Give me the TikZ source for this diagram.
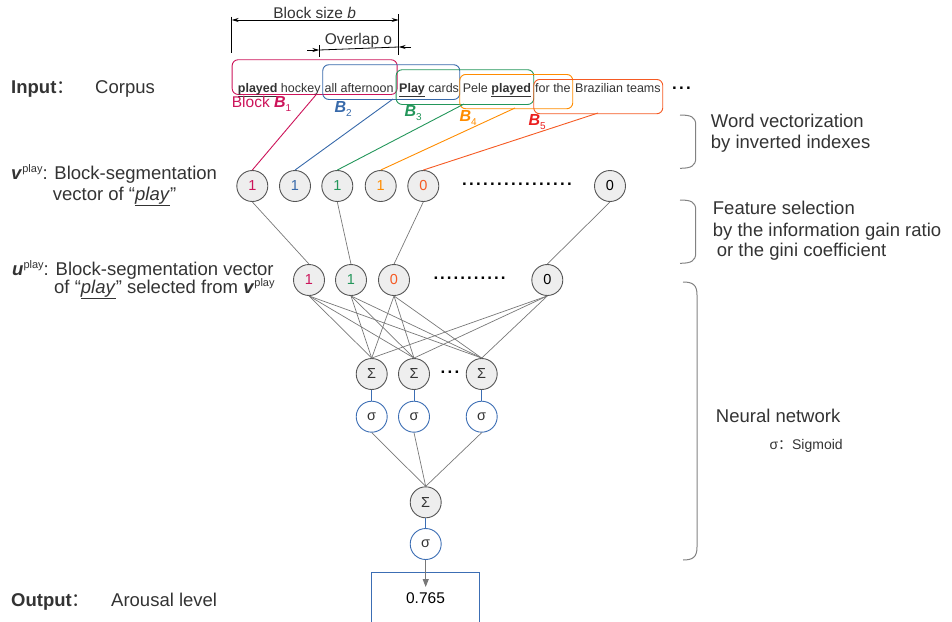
\documentclass[tikz,border=0pt]{standalone}
\usepackage{fontspec}
\setmainfont{Liberation Sans}
\newfontfamily\cjk{Noto Sans CJK SC}
\usetikzlibrary{arrows.meta}
\definecolor{txt}{RGB}{51,51,51}
\definecolor{crim}{RGB}{204,20,90}
\definecolor{blu}{RGB}{55,105,170}
\definecolor{grn}{RGB}{35,150,90}
\definecolor{orn}{RGB}{255,140,0}
\definecolor{rdo}{RGB}{245,90,35}
\definecolor{rdb}{RGB}{235,30,30}
\definecolor{ndraw}{RGB}{85,85,85}
\definecolor{nfill}{RGB}{238,238,238}
\definecolor{sblue}{RGB}{60,110,180}
\definecolor{lgray}{RGB}{120,120,120}
\definecolor{bgray}{RGB}{130,130,130}
\newcommand\fmain{\fontsize{18.5}{22}\selectfont}
\newcommand\fsmall{\fontsize{12.5}{15}\selectfont}
\newcommand\fdim{\fontsize{15.5}{18}\selectfont}
\newcommand\fnum{\fontsize{14.5}{17}\selectfont}
\newcommand\supr[1]{\raisebox{7pt}{\fontsize{11}{12}\selectfont #1}}
\newcommand\bsub[1]{\fontsize{16}{18}\selectfont\textbf{\textit{B}}\raisebox{-4pt}{\fontsize{10}{12}\selectfont #1}}
\newcommand\dotrow[2]{\makebox[#1]{\xleaders\hbox to #2{\hss.\hss}\hfill}}
\begin{document}
\begin{tikzpicture}[x=1pt,y=-1pt,
  every node/.style={text=txt},
  neuron/.style={circle, draw=ndraw, fill=nfill, line width=0.9pt, minimum size=31pt, inner sep=0pt, font=\fnum},
  sig/.style={circle, draw=sblue, fill=white, line width=0.9pt, minimum size=31pt, inner sep=0pt, font=\fnum},
  conn/.style={draw=lgray, line width=0.7pt},
  blk/.style={draw, rounded corners=6pt, line width=0.9pt, inner sep=0pt, anchor=north west},
  lbl/.style={anchor=base west, inner sep=0pt, font=\fmain},
  word/.style={anchor=base west, inner sep=0pt, font=\fsmall},
  brace/.style={draw=bgray, line width=1pt},
  dimline/.style={draw=black, line width=0.8pt},
  dots/.style={inner sep=0pt, text=black, font=\fontsize{17}{18}\selectfont\bfseries},
]
\useasboundingbox (0,0) rectangle (952,621);

% dimension lines
\draw[dimline] (231.7,16.7) -- (231.7,53.3);
\draw[dimline] (398.7,14) -- (398.7,55);
\draw[dimline,{Stealth[length=7pt,width=4pt]}-{Stealth[length=7pt,width=4pt]}] (231.7,20) -- (398.7,20);
\node[anchor=base, inner sep=0pt, font=\fdim] (bsz) at (314.7,18) {Block size \textit{b}};
\draw[dimline] (319.3,45) -- (319.3,56.7);
\draw[dimline,-{Stealth[length=7pt,width=4pt]}] (307,50) -- (319.3,50);
\draw[dimline] (319.3,50) -- (398.7,47);
\draw[dimline,-{Stealth[length=7pt,width=4pt]}] (411,47) -- (398.7,47);
\node[anchor=base, inner sep=0pt, font=\fdim] (ovl) at (358.5,44.3) {Overlap o};

% blocks
\node[blk, draw=crim, minimum width=165pt, minimum height=34.7pt] (B1) at (231.7,59.3) {};
\node[blk, draw=blu, minimum width=137pt, minimum height=34.7pt] (B2) at (322.3,64.3) {};
\node[blk, draw=grn, minimum width=137.6pt, minimum height=34.7pt] (B3) at (395.7,69.3) {};
\node[blk, draw=orn, minimum width=113pt, minimum height=34.3pt] (B4) at (459.3,74) {};
\node[blk, draw=rdo, minimum width=129pt, minimum height=34.3pt] (B5) at (533.3,79) {};

% words
\node[word] (w1) at (237.7,92) {\textbf{\underline{played}} hockey};
\node[word] (w2) at (324.5,92) {all afternoon};
\node[word] (w3) at (399,92) {\textbf{\underline{Play}} cards};
\node[word] (w4) at (462.7,92) {Pele \textbf{\underline{played}}};
\node[word] (w5) at (535,92) {for the};
\node[word] (w6) at (575,92) {Brazilian teams};
\node[dots] (tdots) at (681.5,88) {\dotrow{21pt}{7pt}};

% block labels
\node[anchor=base west, inner sep=0pt, text=crim, font=\fdim] (L1) at (231.7,107.3) {Block \bsub{1}};
\node[anchor=base west, inner sep=0pt, text=blu] (L2) at (334.3,112) {\bsub{2}};
\node[anchor=base west, inner sep=0pt, text=grn] (L3) at (404.3,116.7) {\bsub{3}};
\node[anchor=base west, inner sep=0pt, text=orn] (L4) at (459.3,121.7) {\bsub{4}};
\node[anchor=base west, inner sep=0pt, text=rdb] (L5) at (528.3,125.3) {\bsub{5}};

% v row
\node[neuron, text=crim] (v1) at (252.3,186) {1};
\node[neuron, text=blu] (v2) at (295,186) {1};
\node[neuron, text=grn] (v3) at (337.3,186) {1};
\node[neuron, text=orn] (v4) at (380.7,186) {1};
\node[neuron, text=rdo] (v5) at (423.3,186) {0};
\node[neuron, text=black] (vN) at (610,186) {0};
\node[dots] (vdots) at (517,184) {\dotrow{112pt}{7pt}};

\coordinate (b1) at (316.7,94);
\coordinate (b2) at (393,99);
\coordinate (b3) at (464,104);
\coordinate (b4) at (515,108);
\coordinate (b5) at (598,113);
\draw[crim, line width=0.9pt] (b1) -- (v1.north);
\draw[blu, line width=0.9pt] (b2) -- (v2.north);
\draw[grn, line width=0.9pt] (b3) -- (v3.north);
\draw[orn, line width=0.9pt] (b4) -- (v4.north);
\draw[rdo, line width=0.9pt] (b5) -- (v5.north);

% u row
\node[neuron, text=crim] (u1) at (309,280) {1};
\node[neuron, text=grn] (u2) at (351,280) {1};
\node[neuron, text=rdo] (u3) at (394,280) {0};
\node[neuron, text=black] (uN) at (547.3,280) {0};
\node[dots] (udots) at (469.5,278) {\dotrow{74pt}{6.7pt}};

\draw[conn] (v1.south) -- (u1.north);
\draw[conn] (v3.south) -- (u2.north);
\draw[conn] (v5.south) -- (u3.north);
\draw[conn] (vN.south) -- (uN.north);

% sum row
\node[neuron] (S1) at (371.7,374) {Σ};
\node[neuron] (S2) at (414,374) {Σ};
\node[neuron] (S3) at (481.7,374) {Σ};
\node[dots] (sdots) at (450,372) {\dotrow{21pt}{7pt}};
\foreach \u in {u1,u2,u3,uN}{
  \foreach \s in {S1,S2,S3}{
    \draw[conn] (\u.south) -- (\s.north);
  }
}

% sigma row
\node[sig] (g1) at (371.7,416.7) {σ};
\node[sig] (g2) at (414,416.7) {σ};
\node[sig] (g3) at (481.7,416.7) {σ};
\draw[sblue, line width=1pt] (S1.south) -- (g1.north);
\draw[sblue, line width=1pt] (S2.south) -- (g2.north);
\draw[sblue, line width=1pt] (S3.south) -- (g3.north);

\node[neuron] (SO) at (425.7,502.3) {Σ};
\node[sig] (gO) at (425.7,544) {σ};
\foreach \g in {g1,g2,g3}{ \draw[conn] (\g.south) -- (SO.north); }
\draw[sblue, line width=1pt] (SO.south) -- (gO.north);

% output box
\node[draw=sblue, line width=0.9pt, minimum width=107.6pt, minimum height=70pt, anchor=north, inner sep=0pt] (box) at (425.5,571.7) {};
\node[inner sep=0pt, font=\fontsize{15.5}{18}\selectfont, text=black] (val) at (425.5,598) {0.765};
\coordinate (tip) at (425.7,587);
\draw[draw=lgray, fill=lgray, line width=1pt, -{Triangle[length=8pt,width=6pt]}] (gO.south) -- (tip);

% left labels
\node[lbl] (inp) at (11,93.3) {\textbf{Input}{\cjk ：}};
\node[lbl] (corp) at (95,93.3) {Corpus};
\node[lbl] (vl1) at (11,179.3) {\textbf{\textit{v}}\supr{play}: Block-segmentation};
\node[lbl] (vl2) at (52.7,200) {vector of “\underline{\textit{play}}”};
\node[lbl] (ul1) at (12,275) {\textbf{\textit{u}}\supr{play}: Block-segmentation vector};
\node[lbl] (ul2) at (54,293.3) {of “\underline{\textit{play}}” selected from \textbf{\textit{v}}\supr{play}};
\node[lbl] (outp) at (11,606.7) {\textbf{Output}{\cjk ：}};
\node[lbl] (arl) at (111,606.7) {Arousal level};

% right braces and labels
\draw[brace] (680,115) .. controls (691,115) and (695.7,117) .. (695.7,125) -- (695.7,158) .. controls (695.7,166) and (691,168.3) .. (680,168.3);
\draw[brace] (680,200) .. controls (691,200) and (695.7,202) .. (695.7,210) -- (695.7,253) .. controls (695.7,261) and (691,263.3) .. (680,263.3);
\draw[brace] (683,282) .. controls (693,282) and (697,285) .. (697,295) -- (697,547) .. controls (697,557) and (693,560) .. (683,560);
\node[lbl] (r1a) at (710.7,127.3) {Word vectorization};
\node[lbl] (r1b) at (710.7,148.3) {by inverted indexes};
\node[lbl] (r2a) at (712.7,214.3) {Feature selection};
\node[lbl] (r2b) at (712.7,236) {by the information gain ratio};
\node[lbl] (r2c) at (716.7,256.7) {or the gini coefficient};
\node[lbl] (r3a) at (715.7,422.3) {Neural network};
\node[anchor=base west, inner sep=0pt, font=\fontsize{14}{16}\selectfont] (r3b) at (769.3,449.3) {σ{\cjk ：}Sigmoid};
\end{tikzpicture}
\end{document}
